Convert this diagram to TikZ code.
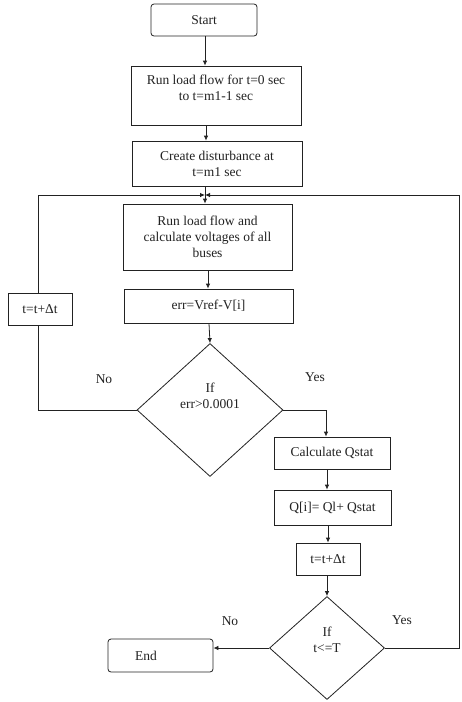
\documentclass[tikz,border=0pt]{standalone}
\usepackage{fontspec}
\setmainfont{Liberation Serif}
\usetikzlibrary{shapes.geometric,arrows.meta}
\definecolor{ink}{HTML}{222222}
\tikzset{
  box/.style={draw=ink,line width=0.8pt,rectangle,inner sep=0pt,align=center,text=ink,font=\fontsize{13.5}{16}\selectfont},
  rbox/.style={box,rounded corners=3pt},
  dec/.style={draw=ink,line width=0.8pt,diamond,inner sep=0pt},
  lbl/.style={text=ink,font=\fontsize{13.5}{16}\selectfont,align=center,inner sep=0pt},
  flow/.style={draw=ink,line width=0.8pt,-{Latex[length=5pt,width=4.5pt]}},
  line/.style={draw=ink,line width=0.8pt}
}
\begin{document}
\begin{tikzpicture}[x=1pt,y=-1pt]
\useasboundingbox[fill=white] (0,0) rectangle (462,702);
% nodes
\node[rbox,minimum width=106pt,minimum height=32pt] (start) at (204,20) {Start};
\node[box,minimum width=170pt,minimum height=59pt] (lf1) at (216,95.5) {Run load flow for t=0 sec\\to t=m1-1 sec\\~};
\node[box,minimum width=170pt,minimum height=45pt] (dist) at (217,163.5) {Create disturbance at\\t=m1 sec};
\node[box,minimum width=169pt,minimum height=66pt] (lf2) at (207.5,237) {Run load flow and\\calculate voltages of all\\buses};
\node[box,minimum width=169pt,minimum height=34pt] (err) at (208.5,306) {err=Vref-V[i]};
\node[box,minimum width=64pt,minimum height=32pt] (tl) at (40,309) {t=t+Δt};
\node[dec,minimum width=146pt,minimum height=133pt] (d1) at (210,410) {};
\node[lbl] (d1t) at (210,396) {If\\err>0.0001};
\node[lbl] (no1) at (104,379) {No};
\node[lbl] (yes1) at (315,377) {Yes};
\node[box,minimum width=116pt,minimum height=32pt] (cq) at (332,453) {Calculate Qstat};
\node[box,minimum width=117pt,minimum height=35pt] (qi) at (332.5,507.5) {Q[i]= Ql+ Qstat};
\node[box,minimum width=64pt,minimum height=32pt] (tr) at (328,559) {t=t+Δt};
\node[dec,minimum width=115pt,minimum height=103pt] (d2) at (327,648) {};
\node[lbl] (d2t) at (327,640) {If\\t<=T};
\node[lbl] (no2) at (230,621) {No};
\node[lbl] (yes2) at (402,620) {Yes};
\node[rbox,minimum width=105pt,minimum height=33pt] (end) at (160.5,655.5) {};
\node[lbl] (endt) at (146,655.5) {End};
% coordinates
\coordinate (m) at (205,195);
\coordinate (lc) at (38,195);
\coordinate (rc) at (459,195);
\coordinate (lb) at (38,410);
\coordinate (ry) at (326,410);
\coordinate (rb) at (459,648);
% connectors
\draw[flow] (start.south -| 205,0) -- (205,0 |- lf1.north);
\draw[flow] (lf1.south -| 206,0) -- (206,0 |- dist.north);
\draw[line] (dist.south -| 205,0) -- (m);
\draw[flow] (m) -- (205,0 |- lf2.north);
\draw[flow] (lf2.south -| 208,0) -- (208,0 |- err.north);
\draw[flow] (err.south -| 209,0) -- (d1.north);
\draw[line] (d1.west) -- (lb) -- (lb |- tl.south);
\draw[flow] (lc |- tl.north) -- (lc) -- (m);
\draw[flow] (d1.east) -- (ry) -- (ry |- cq.north);
\draw[flow] (cq.south -| 327,0) -- (327,0 |- qi.north);
\draw[flow] (qi.south -| 328,0) -- (328,0 |- tr.north);
\draw[flow] (tr.south -| 327,0) -- (d2.north);
\draw[flow] (d2.west) -- (d2.west -| end.east);
\draw[flow] (d2.east) -- (rb) -- (rc) -- (m);
\end{tikzpicture}
\end{document}
